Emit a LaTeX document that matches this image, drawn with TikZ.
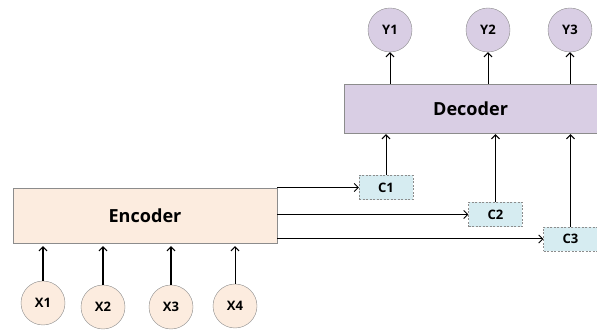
\documentclass[tikz,border=0pt]{standalone}
\usepackage{fontspec}
\setmainfont{Open Sans}
\usetikzlibrary{arrows.meta}
\definecolor{encfill}{RGB}{252,236,223}
\definecolor{decfill}{RGB}{217,206,228}
\definecolor{ctxfill}{RGB}{214,236,241}
\definecolor{edge}{RGB}{140,140,140}
\begin{document}
\begin{tikzpicture}[
  inp/.style={circle,draw=edge,fill=encfill,minimum size=1.54cm,inner sep=0pt,font=\bfseries\fontsize{13}{15}\selectfont},
  outp/.style={circle,draw=edge,fill=decfill,minimum size=1.54cm,inner sep=0pt,font=\bfseries\fontsize{13}{15}\selectfont},
  ctx/.style={rectangle,draw=edge,dash pattern=on 2pt off 1.5pt,fill=ctxfill,minimum width=1.88cm,minimum height=0.85cm,inner sep=0pt,font=\bfseries\fontsize{13}{15}\selectfont},
  arr/.style={-{Straight Barb[length=4pt,width=8pt]},line width=1pt}]
%\draw[step=1cm,gray,very thin] (0,0) grid (21,12); %background grid
\useasboundingbox (0,0) rectangle (20.895,11.55);
\node[rectangle,draw=edge,fill=encfill,minimum width=9.24cm,minimum height=1.925cm,font=\bfseries\fontsize{18}{21}\selectfont] (enc) at (5.075,4.0075) {Encoder};
\node[rectangle,draw=edge,fill=decfill,minimum width=8.855cm,minimum height=1.715cm,font=\bfseries\fontsize{18}{21}\selectfont] (dec) at (16.47,7.7525) {Decoder};
\node[inp] (x1) at (1.505,0.945) {X1};
\node[inp] (x2) at (3.605,0.805) {X2};
\node[inp] (x3) at (5.985,0.805) {X3};
\node[inp] (x4) at (8.225,0.84) {X4};
\node[outp] (y1) at (13.65,10.5) {Y1};
\node[outp] (y2) at (17.08,10.5) {Y2};
\node[outp] (y3) at (19.95,10.5) {Y3};
\node[ctx] (c1) at (13.51,4.9875) {C1};
\node[ctx] (c2) at (17.3425,4.0425) {C2};
\node[ctx] (c3) at (19.9675,3.185) {C3};
\foreach \x in {x1,x2,x3,x4}
  \draw[arr,shorten >=3pt] (\x.north) -- (\x.north |- enc.south);
\foreach \c in {c1,c2,c3} {
  \draw[arr] (enc.east |- \c.west) -- (\c.west);
  \draw[arr,shorten >=1pt] (\c.north) -- (\c.north |- dec.south);
}
\foreach \y in {y1,y2,y3}
  \draw[arr] (dec.north -| \y.south) -- (\y.south);
\end{tikzpicture}
\end{document}
